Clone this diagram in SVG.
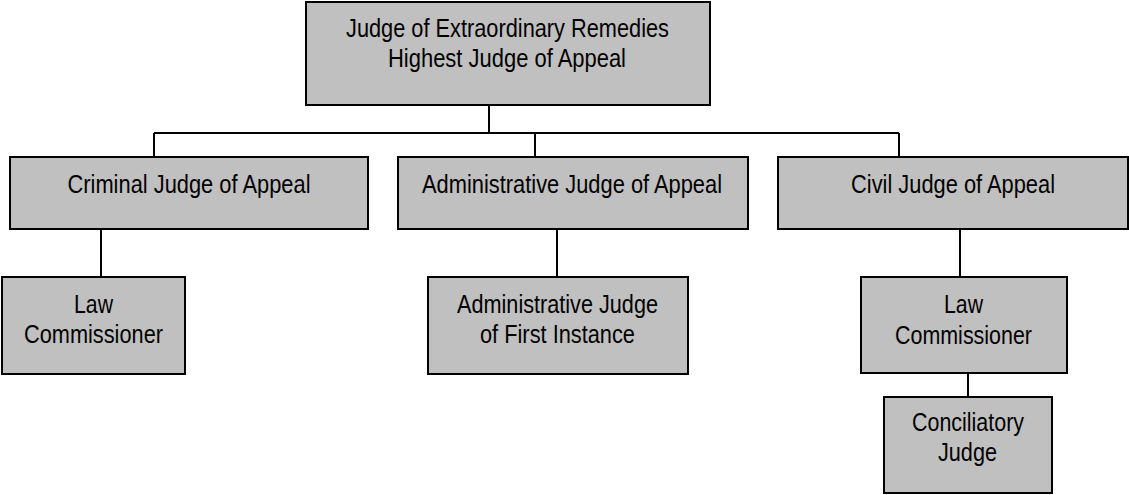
<svg xmlns="http://www.w3.org/2000/svg" width="1129" height="495" viewBox="0 0 1129 495">
<style>
.box{fill:#c0c0c0;stroke:#000;stroke-width:2}
.lbl{font-family:"Liberation Sans Narrow","Arial Narrow","Liberation Sans",Arial,sans-serif;font-size:25px;fill:#000;text-anchor:middle}
.con{stroke:#000;stroke-width:2;fill:none}
</style>
<rect width="1129" height="495" fill="#fff"/>
<g id="connectors">
<path class="con" d="M489 105V133M154 133H899M154 133V157M535 133V157M899 133V157"/>
<path class="con" d="M101 229V277M557 229V277M960 229V277M968 373V397"/>
</g>
<g id="n-top">
<rect class="box" x="306" y="2" width="404" height="103"/>
<text class="lbl" x="507.5" y="37" textLength="323" lengthAdjust="spacingAndGlyphs">Judge of Extraordinary Remedies</text>
<text class="lbl" x="507" y="67" textLength="238" lengthAdjust="spacingAndGlyphs">Highest Judge of Appeal</text>
</g>
<g id="n-criminal">
<rect class="box" x="10" y="157" width="358" height="72"/>
<text class="lbl" x="189" y="193" textLength="243" lengthAdjust="spacingAndGlyphs">Criminal Judge of Appeal</text>
</g>
<g id="n-admin">
<rect class="box" x="398" y="157" width="350" height="72"/>
<text class="lbl" x="572" y="193" textLength="300" lengthAdjust="spacingAndGlyphs">Administrative Judge of Appeal</text>
</g>
<g id="n-civil">
<rect class="box" x="778" y="157" width="350" height="72"/>
<text class="lbl" x="953" y="193" textLength="204" lengthAdjust="spacingAndGlyphs">Civil Judge of Appeal</text>
</g>
<g id="n-law-left">
<rect class="box" x="2" y="277" width="183" height="97"/>
<text class="lbl" x="93.5" y="313" textLength="39" lengthAdjust="spacingAndGlyphs">Law</text>
<text class="lbl" x="93.5" y="343" textLength="139" lengthAdjust="spacingAndGlyphs">Commissioner</text>
</g>
<g id="n-admin-first">
<rect class="box" x="428" y="277" width="260" height="97"/>
<text class="lbl" x="557.5" y="313" textLength="201" lengthAdjust="spacingAndGlyphs">Administrative Judge</text>
<text class="lbl" x="557.5" y="343" textLength="155" lengthAdjust="spacingAndGlyphs">of First Instance</text>
</g>
<g id="n-law-civil">
<rect class="box" x="861" y="277" width="206" height="96"/>
<text class="lbl" x="963.5" y="313" textLength="39" lengthAdjust="spacingAndGlyphs">Law</text>
<text class="lbl" x="963.5" y="344" textLength="137" lengthAdjust="spacingAndGlyphs">Commissioner</text>
</g>
<g id="n-conciliatory">
<rect class="box" x="884" y="397" width="168" height="96"/>
<text class="lbl" x="968" y="431" textLength="112" lengthAdjust="spacingAndGlyphs">Conciliatory</text>
<text class="lbl" x="967.5" y="461" textLength="59" lengthAdjust="spacingAndGlyphs">Judge</text>
</g>
</svg>
